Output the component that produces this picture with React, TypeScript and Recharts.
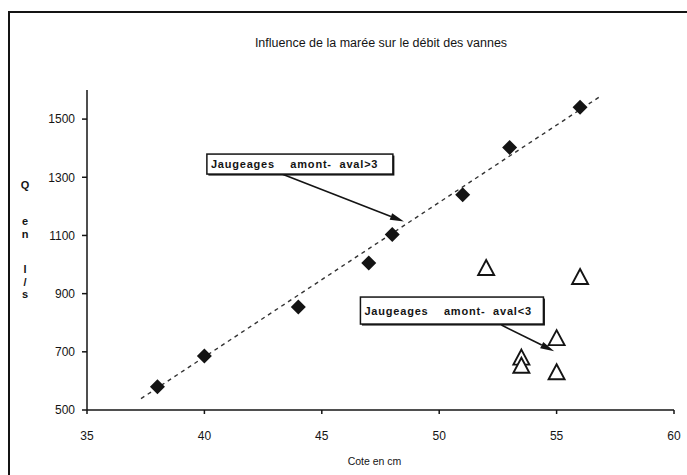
import React from 'react';
import { ScatterChart, Scatter, XAxis, YAxis, ReferenceLine, Label } from 'recharts';

const xTicks = [35, 40, 45, 50, 55, 60];
const yTicks = [500, 700, 900, 1100, 1300, 1500];

// gauging points, amont-aval > 3
const amontX = [38, 40, 44, 47, 48, 51, 53, 56];
const amontQ = [580, 686, 854, 1005, 1103, 1240, 1402, 1541];

// gauging points, amont-aval < 3
const avalX = [52, 53.5, 53.5, 55, 55, 56];
const avalQ = [988, 680, 652, 747, 630, 957];

// fitted trend line ends
const trendX = [37.3, 56.8];
const trendQ = [539, 1575];

const noteLabels = ['Jaugeages    amont-  aval>3', 'Jaugeages    amont-  aval<3'];
const noteFromX = [43.3, 52.65];
const noteFromQ = [1311, 792];
const noteToX = [48.5, 54.9];
const noteToQ = [1148, 702];

// box placement relative to the arrow tail (px)
const noteBox = [
  { dx: -75, dy: -20, w: 186, h: 20 },
  { dx: -141, dy: -28, w: 183, h: 27 },
];

const FONT = '"Liberation Sans", Arial, sans-serif';
const INK = '#141414';

const amontData = amontX.map((x, i) => ({ x, y: amontQ[i] }));
const avalData = avalX.map((x, i) => ({ x, y: avalQ[i] }));

const Diamond = (props: any) => {
  const { cx, cy } = props;
  const r = 7.5;
  return <polygon points={`${cx},${cy - r} ${cx + r},${cy} ${cx},${cy + r} ${cx - r},${cy}`} fill={INK} />;
};

const Triangle = (props: any) => {
  const { cx, cy } = props;
  return (
    <polygon
      points={`${cx},${cy - 8} ${cx + 8},${cy + 7} ${cx - 8},${cy + 7}`}
      fill="#fff"
      stroke={INK}
      strokeWidth={1.9}
    />
  );
};

const makeNote = (idx: number) => (props: any) => {
  const { x1, y1, x2, y2 } = props;
  const b = noteBox[idx];
  const ang = Math.atan2(y2 - y1, x2 - x1);
  const len = 14;
  const half = 3.5;
  const bx = x2 - len * Math.cos(ang);
  const by = y2 - len * Math.sin(ang);
  const px = -Math.sin(ang) * half;
  const py = Math.cos(ang) * half;
  const rx = x1 + b.dx;
  const ry = y1 + b.dy;
  return (
    <g>
      <line x1={x1} y1={y1} x2={bx} y2={by} stroke={INK} strokeWidth={1.6} />
      <polygon points={`${x2},${y2} ${bx + px},${by + py} ${bx - px},${by - py}`} fill={INK} />
      <rect x={rx + 1.5} y={ry + 1.5} width={b.w} height={b.h} fill={INK} />
      <rect x={rx} y={ry} width={b.w} height={b.h} fill="#fff" stroke={INK} strokeWidth={1.5} />
      <text
        x={rx + 4}
        y={ry + b.h / 2 + 4}
        fontFamily={FONT}
        fontSize={11}
        fontWeight={700}
        letterSpacing={0.8}
        fill={INK}
        style={{ whiteSpace: 'pre' }}
      >
        {noteLabels[idx]}
      </text>
    </g>
  );
};

const yLetters = [
  { c: 'Q', top: 179 },
  { c: 'e', top: 215 },
  { c: 'n', top: 228 },
  { c: 'l', top: 263 },
  { c: '/', top: 276 },
  { c: 's', top: 288 },
];

export default function App() {
  return (
    <div style={{ position: 'absolute', left: 0, top: 0, width: 687, height: 475, background: '#fff', overflow: 'hidden', fontFamily: FONT }}>
      <div style={{ position: 'absolute', left: 8, top: 11, width: 720, height: 520, border: `2px solid ${INK}` }} />
      <div style={{ position: 'absolute', left: 0, width: 762, top: 36, textAlign: 'center', fontSize: 12.5, color: INK }}>
        Influence de la marée sur le débit des vannes
      </div>
      {yLetters.map((l) => (
        <div key={l.c} style={{ position: 'absolute', left: 19, width: 12, textAlign: 'center', top: l.top, fontSize: 11, fontWeight: 700, color: INK }}>
          {l.c}
        </div>
      ))}
      <ScatterChart width={687} height={475} margin={{ top: 90, right: 13, bottom: 5, left: 27 }} style={{ position: 'absolute', left: 0, top: 0 }}>
        <XAxis
          type="number"
          dataKey="x"
          domain={[35, 60]}
          ticks={xTicks}
          allowDataOverflow
          height={60}
          stroke={INK}
          strokeWidth={1.5}
          tickSize={4}
          tickMargin={17}
          tick={{ fill: INK, fontSize: 12, fontFamily: FONT }}
        >
          <Label value="Cote en cm" position="insideBottom" offset={5} dx={-6} fill={INK} fontSize={10.5} fontFamily={FONT} />
        </XAxis>
        <YAxis
          type="number"
          dataKey="y"
          domain={[500, 1600]}
          ticks={yTicks}
          allowDataOverflow
          width={60}
          stroke={INK}
          strokeWidth={1.5}
          tickSize={5}
          tickMargin={7}
          tick={{ fill: INK, fontSize: 12, fontFamily: FONT }}
        />
        <ReferenceLine
          segment={[{ x: trendX[0], y: trendQ[0] }, { x: trendX[1], y: trendQ[1] }]}
          stroke="#333"
          strokeWidth={1.4}
          strokeDasharray="4 4"
          ifOverflow="visible"
        />
        <Scatter data={amontData} shape={Diamond} isAnimationActive={false} />
        <Scatter data={avalData} shape={Triangle} isAnimationActive={false} />
        {noteLabels.map((_, i) => (
          <ReferenceLine
            key={i}
            segment={[{ x: noteFromX[i], y: noteFromQ[i] }, { x: noteToX[i], y: noteToQ[i] }]}
            ifOverflow="visible"
            shape={makeNote(i)}
          />
        ))}
      </ScatterChart>
    </div>
  );
}
